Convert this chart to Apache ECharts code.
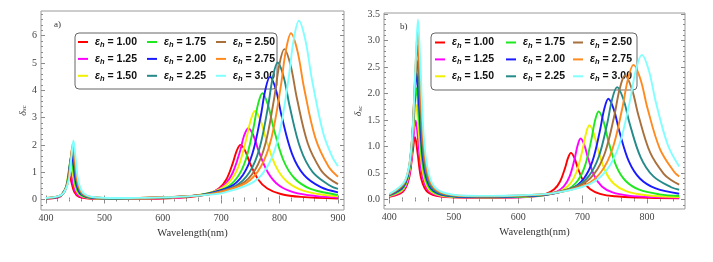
<!DOCTYPE html>
<html><head><meta charset="utf-8">
<script src="https://cdn.jsdelivr.net/npm/echarts@6/dist/echarts.min.js"></script>
<style>html,body{margin:0;padding:0;background:#fff}#c{width:713px;height:262px}</style>
</head><body><div id="c"></div>
<script>
// ---- legend labels & colours ----
const epsLabels = ['1.00','1.25','1.50','1.75','2.00','2.25','2.50','2.75','3.00'];
const lineColors = ['#ff0000','#ff00ff','#f0f000','#1ee81e','#1a1aff','#248a8a','#a8703c','#ff8a1e','#80ffff'];

// ---- tick labels ----
const aXTicks = [400,500,600,700,800,900];
const aYTicks = [0,1,2,3,4,5,6];
const bXTicks = [400,500,600,700,800];
const bYTicks = [0,0.5,1,1.5,2,2.5,3,3.5];
const xTitle = 'Wavelength(nm)';

// ---- panel a) : [wavelength nm, delta_sc] ----
const aE100 = [[400,0.022],[420,0.070],[423.5,0.096],[431.8,0.279],[436.7,0.655],[440,0.888],[443.3,0.655],[448.3,0.279],[456.5,0.096],[480,0.027],[520,0.019],[560,0.025],[600,0.038],[640.5,0.077],[677.5,0.2],[696,0.4],[709,0.744],[720,1.342],[726.5,1.782],[733,2.0],[741,1.782],[749,1.342],[763,0.744],[779,0.4],[802,0.2],[836.5,0.094],[900,0.037]];
const aE125 = [[400,0.028],[420,0.080],[424.5,0.120],[432.8,0.345],[437.7,0.806],[441,1.092],[444.3,0.806],[449.3,0.345],[457.5,0.120],[480,0.037],[520,0.027],[560,0.034],[600,0.053],[642.5,0.101],[684,0.261],[705,0.522],[719.5,0.971],[732,1.751],[739,2.326],[746.5,2.61],[755.5,2.326],[764.5,1.751],[780.5,0.971],[798.5,0.522],[824.5,0.261],[863.5,0.123],[900,0.073]];
const aE150 = [[400,0.035],[420,0.095],[425.5,0.153],[433.8,0.44],[438.7,1.029],[442,1.395],[445.3,1.029],[450.3,0.44],[458.5,0.153],[480,0.048],[520,0.034],[560,0.042],[600,0.063],[648,0.125],[692,0.324],[714,0.648],[729.5,1.205],[742.5,2.174],[750.3,2.887],[758,3.24],[767.6,2.887],[777.3,2.174],[793.8,1.205],[813,0.648],[840.5,0.324],[881.8,0.152],[900,0.117]];
const aE175 = [[400,0.038],[420,0.098],[426.5,0.169],[434.8,0.485],[439.7,1.134],[443,1.537],[446.3,1.134],[451.3,0.485],[459.5,0.169],[480,0.055],[520,0.038],[560,0.045],[600,0.065],[640,0.107],[660.5,0.150],[704.5,0.389],[726.5,0.778],[741.9,1.447],[755.1,2.610],[762.8,3.466],[770.5,3.89],[780.1,3.466],[789.8,2.610],[806.3,1.447],[825.5,0.778],[853,0.389],[894.3,0.183],[900,0.168]];
const aE200 = [[400,0.042],[420,0.102],[427.5,0.188],[435.8,0.535],[440.7,1.248],[444,1.691],[447.3,1.248],[452.3,0.535],[460.5,0.188],[480,0.064],[520,0.044],[560,0.050],[600,0.072],[640,0.115],[667.6,0.173],[714,0.45],[737.2,0.9],[753.4,1.674],[767.4,3.02],[775.5,4.01],[783.6,4.5],[793.8,4.01],[803.9,3.02],[821.3,1.674],[841.6,0.9],[870.6,0.45],[900,0.263]];
const aE225 = [[400,0.045],[420,0.104],[428.5,0.203],[436.8,0.577],[441.7,1.346],[445,1.823],[448.3,1.346],[453.3,0.577],[461.5,0.203],[480,0.072],[520,0.047],[560,0.053],[600,0.075],[640,0.115],[676.7,0.193],[724.7,0.502],[748.7,1.004],[765.5,1.867],[779.9,3.368],[788.3,4.473],[796.7,5.02],[807.2,4.473],[817.7,3.368],[835.7,1.867],[856.7,1.004],[886.7,0.502],[900,0.39]];
const aE250 = [[400,0.048],[420,0.109],[429,0.219],[437.3,0.62],[442.2,1.445],[445.5,1.956],[448.8,1.445],[453.8,0.62],[462,0.219],[480,0.079],[520,0.051],[560,0.057],[600,0.078],[640,0.117],[684,0.212],[733.6,0.551],[758.4,1.102],[775.8,2.05],[790.6,3.697],[799.3,4.909],[808,5.51],[818.9,4.909],[829.7,3.697],[848.3,2.05],[870,1.102],[885,0.768],[900,0.562]];
const aE275 = [[400,0.052],[420,0.113],[429.5,0.231],[437.8,0.653],[442.7,1.52],[446,2.058],[449.3,1.52],[454.3,0.653],[462.5,0.231],[480,0.086],[520,0.055],[560,0.061],[600,0.083],[640,0.121],[691.5,0.234],[742.7,0.609],[768.3,1.218],[786.2,2.265],[801.6,4.086],[810.5,5.426],[819.5,6.09],[830.7,5.426],[841.9,4.086],[861.1,2.265],[883.5,1.218],[900,0.831]];
const aE300 = [[400,0.052],[420,0.111],[430.5,0.242],[438.8,0.685],[443.7,1.595],[447,2.159],[450.3,1.595],[455.3,0.685],[463.5,0.242],[480,0.092],[520,0.056],[560,0.059],[600,0.079],[640,0.113],[680,0.178],[705,0.252],[756.2,0.655],[781.8,1.31],[799.7,2.437],[815.1,4.395],[824,5.836],[833,6.55],[844.2,5.836],[855.4,4.395],[874.6,2.437],[890,1.57],[900,1.217]];

// ---- panel b) ----
const bE100 = [[400,0.052],[420.5,0.139],[430.3,0.380],[436.1,0.875],[440,1.18],[443.9,0.875],[449.8,0.380],[459.5,0.139],[480,0.054],[520,0.033],[560,0.033],[600,0.042],[617,0.053],[643,0.106],[656,0.192],[665.1,0.340],[672.9,0.597],[677.5,0.786],[682,0.88],[687.3,0.786],[692.5,0.597],[701.5,0.340],[712,0.192],[727,0.106],[749.5,0.060],[790,0.036],[850,0.022]];
const bE125 = [[400,0.058],[421.5,0.170],[431.3,0.476],[437.1,1.103],[441,1.49],[444.9,1.103],[450.8,0.476],[460.5,0.170],[480,0.064],[520,0.036],[560,0.034],[600,0.041],[632,0.064],[658,0.133],[671,0.246],[680.1,0.440],[687.9,0.778],[692.5,1.027],[697,1.15],[702.8,1.027],[708.6,0.778],[718.5,0.440],[730,0.246],[746.5,0.133],[771.3,0.073],[810,0.044],[850,0.033]];
const bE150 = [[400,0.065],[422,0.200],[431.8,0.568],[437.6,1.324],[441.5,1.79],[445.4,1.324],[451.3,0.568],[461,0.200],[480,0.075],[520,0.041],[560,0.039],[600,0.047],[635.6,0.073],[665.6,0.158],[680.6,0.296],[691.1,0.533],[700.1,0.946],[705.4,1.250],[710.6,1.40],[717.3,1.250],[723.9,0.946],[735.3,0.533],[748.6,0.296],[767.6,0.158],[796.1,0.085],[850,0.045]];
const bE175 = [[400,0.073],[422.5,0.231],[432.3,0.664],[438.1,1.552],[442,2.10],[445.9,1.552],[451.8,0.664],[461.5,0.231],[480,0.086],[520,0.045],[560,0.042],[600,0.051],[642.5,0.083],[675.5,0.184],[692,0.348],[703.6,0.630],[713.5,1.120],[719.2,1.481],[725,1.66],[732.4,1.481],[739.7,1.120],[752.3,0.630],[767,0.348],[788,0.184],[819.5,0.097],[850,0.065]];
const bE200 = [[400,0.080],[423,0.263],[432.8,0.752],[438.6,1.755],[442.5,2.38],[446.4,1.755],[452.3,0.752],[462,0.263],[480,0.099],[520,0.050],[560,0.048],[600,0.058],[645,0.092],[683,0.208],[702,0.396],[715.3,0.719],[726.7,1.282],[733.4,1.695],[740,1.90],[748.6,1.695],[757.2,1.282],[771.9,0.719],[789,0.396],[813.5,0.208],[850,0.109]];
const bE225 = [[400,0.086],[423.5,0.29],[433.3,0.831],[439.1,1.941],[443,2.63],[446.9,1.941],[452.8,0.831],[462.5,0.29],[480,0.112],[520,0.056],[560,0.055],[600,0.066],[643.6,0.101],[687.6,0.23],[709.6,0.44],[725,0.801],[738.2,1.429],[745.9,1.891],[753.6,2.12],[763.4,1.891],[773.2,1.429],[790,0.801],[809.6,0.44],[837.6,0.23],[850,0.183]];
const bE250 = [[400,0.093],[424,0.321],[433.8,0.92],[439.6,2.15],[443.5,2.91],[447.4,2.15],[453.3,0.92],[463,0.321],[480,0.125],[520,0.063],[560,0.060],[600,0.073],[646,0.109],[694,0.252],[718,0.484],[734.8,0.883],[749.2,1.577],[757.6,2.087],[766,2.34],[776.5,2.087],[787,1.577],[805,0.883],[826,0.484],[838,0.363],[850,0.282]];
const bE275 = [[400,0.098],[424.5,0.347],[434.3,0.998],[440.1,2.335],[444,3.16],[447.9,2.335],[453.8,0.998],[463.5,0.347],[480,0.136],[520,0.066],[560,0.062],[600,0.074],[654,0.117],[704,0.272],[729,0.524],[746.5,0.957],[761.5,1.711],[770.3,2.265],[779,2.54],[790,2.265],[801,1.711],[820,0.957],[842,0.524],[850,0.434]];
const bE300 = [[400,0.103],[425,0.372],[434.8,1.071],[440.6,2.506],[444.5,3.40],[448.4,2.506],[454.3,1.071],[464,0.372],[480,0.149],[520,0.071],[560,0.067],[600,0.079],[657,0.124],[711,0.291],[738,0.562],[756.9,1.028],[773.1,1.838],[782.6,2.435],[792,2.73],[802.9,2.435],[813.7,1.838],[832.3,1.028],[850,0.62]];

const panelAData = [aE100,aE125,aE150,aE175,aE200,aE225,aE250,aE275,aE300];
const panelBData = [bE100,bE125,bE150,bE175,bE200,bE225,bE250,bE275,bE300];

// ---- layout / style ----
function minorList(lo, hi, step, majors) {
  const out = [];
  for (let k = Math.ceil(lo / step - 1e-9); k * step <= hi + 1e-9; k++) {
    const v = +(k * step).toFixed(4);
    if (!majors.some(m => Math.abs(m - v) < 1e-6)) out.push(v);
  }
  return out;
}
const panels = [
  { grid:{left:41, top:11, width:303, height:199}, xMin:391.44, xMax:910.27, yMin:-0.385, yMax:6.905,
    xMaj:aXTicks, yMaj:aYTicks, xStep:20, yStep:0.2, yFmt:v=>String(v), data:panelAData,
    nameGapY:13, legendCols:[78,147,216], legendTop:36.5, box:[75,33,202,56], tag:'a)', tagPos:[54,20] },
  { grid:{left:384, top:13, width:301, height:196}, xMin:391.8, xMax:859, yMin:-0.18, yMax:3.52,
    xMaj:bXTicks, yMaj:bYTicks, xStep:20, yStep:0.1, yFmt:v=>v.toFixed(1), data:panelBData,
    nameGapY:20, legendCols:[435,506,573], legendTop:37, box:[431,33,206,57], tag:'b)', tagPos:[400,22] }
];
const tickColor = '#8a8a8a';
const labelFont = {fontFamily:'Liberation Serif', fontSize:10, color:'#444'};

const grids = [], xAxes = [], yAxes = [], series = [], legends = [], graphics = [];
panels.forEach((p, pi) => {
  grids.push(Object.assign({show:true, borderColor:'#9a9a9a', borderWidth:1, backgroundColor:'transparent'}, p.grid));
  const xMin = minorList(p.xMin, p.xMax, p.xStep, p.xMaj);
  const yMin = minorList(p.yMin, p.yMax, p.yStep, p.yMaj);
  const base = {gridIndex:pi, type:'value', axisLine:{show:false}, splitLine:{show:false}};
  ['bottom','top'].forEach(pos => {
    xAxes.push(Object.assign({}, base, {position:pos, min:p.xMin, max:p.xMax,
      axisTick:{show:true, inside:true, length:4, customValues:p.xMaj, lineStyle:{color:tickColor}},
      axisLabel: pos==='bottom' ? Object.assign({customValues:p.xMaj, margin:3}, labelFont) : {show:false},
      name: pos==='bottom' ? xTitle : '', nameLocation:'middle', nameGap:16,
      nameTextStyle:{fontFamily:'Liberation Serif', fontSize:10.5, color:'#333'}}));
    xAxes.push(Object.assign({}, base, {position:pos, min:p.xMin, max:p.xMax,
      axisTick:{show:true, inside:true, length:2, customValues:xMin, lineStyle:{color:tickColor}},
      axisLabel:{show:false}}));
  });
  ['left','right'].forEach(pos => {
    yAxes.push(Object.assign({}, base, {position:pos, min:p.yMin, max:p.yMax,
      axisTick:{show:true, inside:true, length:4, customValues:p.yMaj, lineStyle:{color:tickColor}},
      axisLabel: pos==='left' ? Object.assign({customValues:p.yMaj, margin:4, formatter:p.yFmt}, labelFont) : {show:false},
      name: pos==='left' ? '{d|δ}{s|sc}' : '', nameLocation:'middle', nameGap:p.nameGapY, nameRotate:90,
      nameTextStyle:{rich:{d:{fontFamily:'Liberation Serif', fontStyle:'italic', fontSize:10, color:'#444'},
                          s:{fontFamily:'Liberation Serif', fontStyle:'italic', fontSize:7, color:'#444', verticalAlign:'bottom'}}}}));
    yAxes.push(Object.assign({}, base, {position:pos, min:p.yMin, max:p.yMax,
      axisTick:{show:true, inside:true, length:2, customValues:yMin, lineStyle:{color:tickColor}},
      axisLabel:{show:false}}));
  });
  p.data.forEach((d, i) => {
    series.push({type:'line', name:epsLabels[i], xAxisIndex:pi*4, yAxisIndex:pi*4, data:d,
      symbol:'none', showSymbol:false, smooth:0.35, color:lineColors[i],
      lineStyle:{width:1.9, color:lineColors[i]}, z:3, animation:false, silent:true});
  });
  [0,1,2].forEach(c => {
    legends.push({orient:'vertical', left:p.legendCols[c], top:p.legendTop, padding:0, itemGap:4.4,
      itemWidth:10, itemHeight:2, icon:'rect', selectedMode:false, z:1,
      data:epsLabels.slice(c*3, c*3+3),
      formatter:n => '{e|ε}{h|h}{t| = ' + n + '}',
      textStyle:{color:'#111', rich:{
        e:{fontFamily:'Liberation Sans', fontWeight:'bold', fontStyle:'italic', fontSize:10.5, lineHeight:14, padding:[0,0,0,2], color:'#111'},
        h:{fontFamily:'Liberation Sans', fontWeight:'bold', fontStyle:'italic', fontSize:7.5, lineHeight:14, verticalAlign:'bottom', color:'#111'},
        t:{fontFamily:'Liberation Sans', fontWeight:'bold', fontSize:10.5, lineHeight:14, color:'#111'}}}});
  });
  graphics.push({type:'rect', z:0, shape:{x:p.box[0], y:p.box[1], width:p.box[2], height:p.box[3], r:4},
    style:{fill:'#fff', stroke:'#666', lineWidth:1}});
  graphics.push({type:'text', z:5, left:p.tagPos[0], top:p.tagPos[1],
    style:{text:p.tag, font:'9px "Liberation Serif"', fill:'#333'}});
});

const chart = echarts.init(document.getElementById('c'), null, {renderer:'canvas'});
chart.setOption({
  animation:false, backgroundColor:'#fff',
  grid:grids, xAxis:xAxes, yAxis:yAxes, series:series, legend:legends, graphic:graphics
});
</script></body></html>
